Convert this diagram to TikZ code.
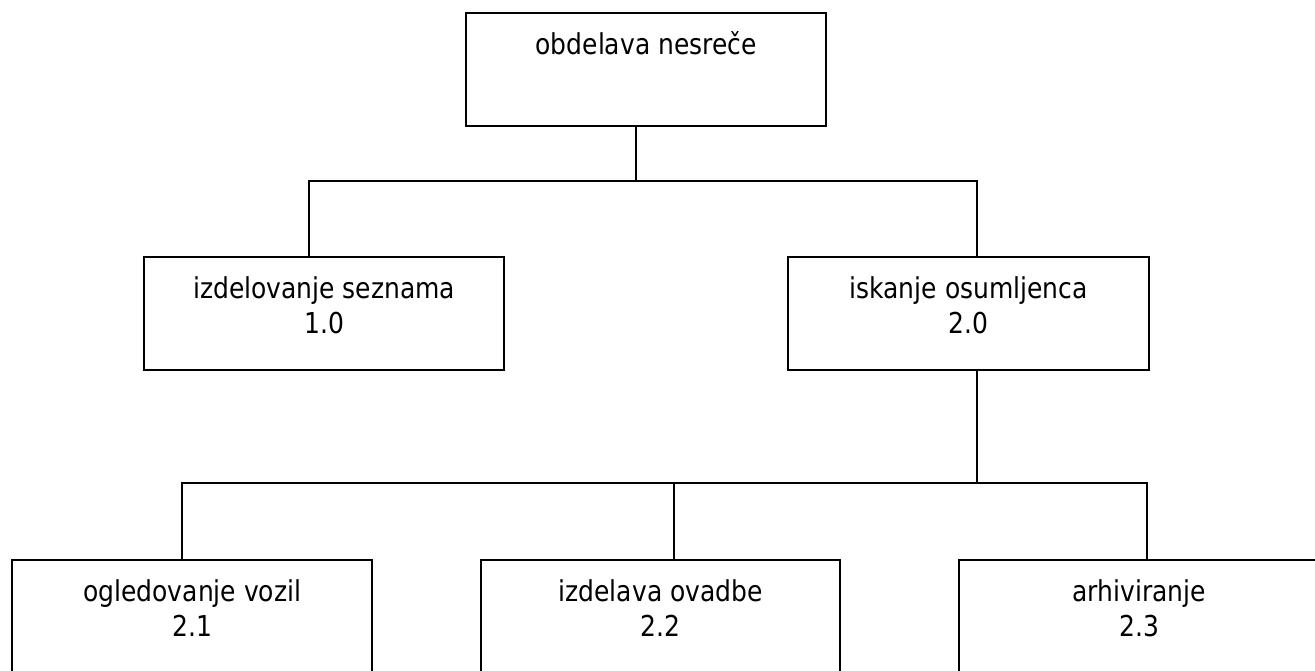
\documentclass[tikz,border=0pt]{standalone}
\usepackage{graphicx}
\usepackage{fontspec}
\setmainfont{DejaVu Sans}
\begin{document}
\begin{tikzpicture}[x=1pt,y=-1pt,
  box/.style={draw=black, line width=2.4pt, inner sep=0pt, anchor=north west, fill=white},
  conn/.style={draw=black, line width=2.4pt}]
\useasboundingbox (0,0) rectangle (1315,671);
\clip (0,0) rectangle (1315,671);
\newcommand{\tline}[1]{\scalebox{1}[1.15]{#1}}
\newcommand{\boxtext}[3]{\parbox[c][113pt][t]{#1pt}{\centering\fontsize{25}{35}\selectfont\rule{0pt}{41pt}\tline{#2}\\\tline{#3}}}
% boxes
\node[box] (top) at (465,12) {\boxtext{360}{obdelava nesreče}{}};
\node[box] (s1) at (143,256) {\boxtext{360}{izdelovanje seznama}{1.0}};
\node[box] (s2) at (787,256) {\boxtext{361}{iskanje osumljenca}{2.0}};
\node[box] (s21) at (11,559) {\boxtext{360}{ogledovanje vozil}{2.1}};
\node[box] (s22) at (480,559) {\boxtext{359}{izdelava ovadbe}{2.2}};
\node[box] (s23) at (958,559) {\boxtext{360}{arhiviranje}{2.3}};
% junctions
\coordinate (j0) at (636,181);
\coordinate (j1) at (309,181);
\coordinate (j2) at (977,181);
\coordinate (k0) at (977,483);
\coordinate (k1) at (182,483);
\coordinate (k2) at (674,483);
\coordinate (k3) at (1147,483);
% connectors
\draw[conn] (top.south -| j0) -- (j0);
\draw[conn] (s1.north -| j1) -- (j1) -- (j2) -- (s2.north -| j2);
\draw[conn] (s2.south -| k0) -- (k0);
\draw[conn] (s21.north -| k1) -- (k1) -- (k3) -- (s23.north -| k3);
\draw[conn] (k2) -- (s22.north -| k2);
\end{tikzpicture}
\end{document}
